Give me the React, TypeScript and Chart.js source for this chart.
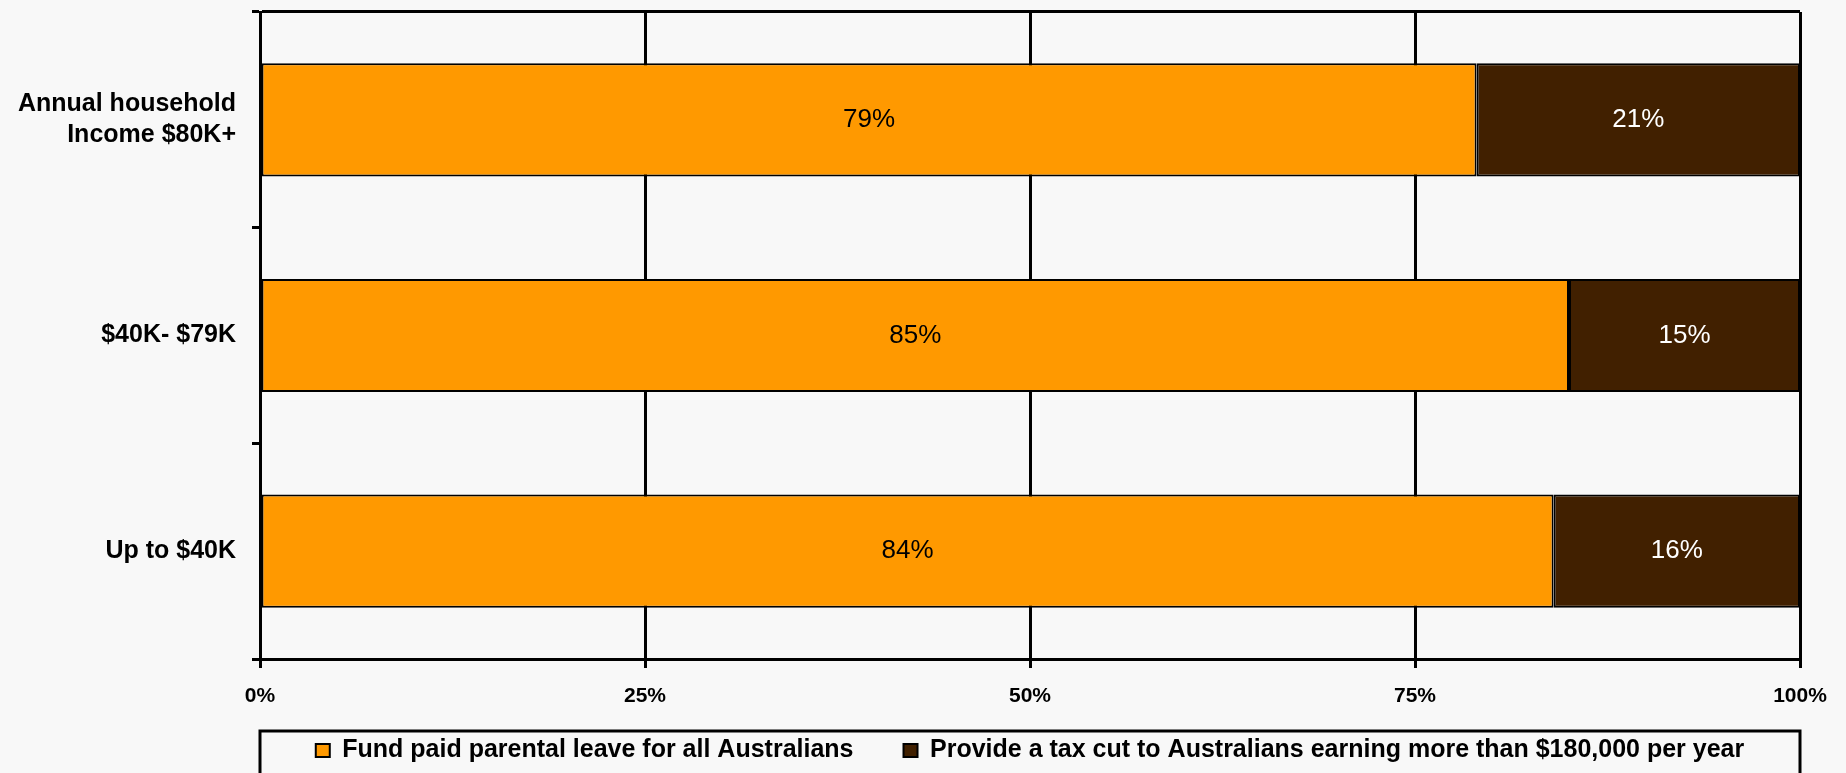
import React, { useEffect, useRef } from "react";
import { Chart, registerables } from "chart.js";

Chart.register(...registerables);

// ---- data ----
const categories: (string | string[])[] = [
  ["Annual household", "Income $80K+"],
  "$40K- $79K",
  "Up to $40K",
];
const seriesNames = [
  "Fund paid parental leave for all Australians",
  "Provide a tax cut to Australians earning more than $180,000 per year",
];
const fundValues = [79, 85, 84];
const taxCutValues = [21, 15, 16];
const xTickValues = [0, 25, 50, 75, 100];

// ---- styles ----
const ORANGE = "#FF9900";
const BROWN = "#412000";
const BG = "#f8f8f8";
const FONT = "'Liberation Sans', Arial, sans-serif";
const LABEL_COLORS = ["#000000", "#ffffff"];

const valueLabels = {
  id: "valueLabels",
  afterDatasetsDraw(chart: any) {
    const ctx = chart.ctx;
    ctx.save();
    ctx.font = `26px ${FONT}`;
    ctx.textAlign = "center";
    ctx.textBaseline = "middle";
    chart.data.datasets.forEach((ds: any, i: number) => {
      const meta = chart.getDatasetMeta(i);
      ctx.fillStyle = LABEL_COLORS[i];
      meta.data.forEach((el: any, j: number) => {
        const p = el.getCenterPoint();
        ctx.fillText(`${ds.data[j]}%`, p.x, p.y);
      });
    });
    ctx.restore();
  },
};

// let the x-axis tick labels draw below its (short) layout box
const xLabelRoom = {
  id: "xLabelRoom",
  afterLayout(chart: any) {
    const x = chart.scales.x;
    x.bottom = x.top + 60;
    x.height = 60;
  },
};

const legendFrame = {
  id: "legendFrame",
  afterDraw(chart: any) {
    const { ctx, chartArea } = chart;
    const top = chartArea.bottom + 72;
    ctx.save();
    ctx.strokeStyle = "#000";
    ctx.lineWidth = 3;
    ctx.strokeRect(chartArea.left, top, chartArea.right - chartArea.left, 200);
    ctx.restore();
  },
};

export default function App() {
  const ref = useRef<HTMLCanvasElement | null>(null);

  useEffect(() => {
    if (!ref.current) return;
    const barBorder = { top: 2, bottom: 2, left: 2, right: 2 };
    const chart = new Chart(ref.current, {
      type: "bar",
      data: {
        labels: categories as any,
        datasets: [
          {
            label: seriesNames[0],
            data: fundValues,
            backgroundColor: ORANGE,
            borderColor: "#000",
            borderWidth: barBorder as any,
            borderSkipped: false,
          },
          {
            label: seriesNames[1],
            data: taxCutValues,
            backgroundColor: BROWN,
            borderColor: "#000",
            borderWidth: barBorder as any,
            borderSkipped: false,
          },
        ],
      },
      options: {
        indexAxis: "y",
        responsive: false,
        animation: false,
        layout: { padding: { top: 12, right: 46, left: 0, bottom: 0 } },
        datasets: { bar: { categoryPercentage: 1, barPercentage: 0.525 } },
        scales: {
          x: {
            stacked: true,
            min: 0,
            max: 100,
            afterBuildTicks: (s: any) => {
              s.ticks = xTickValues.map((v) => ({ value: v }));
            },
            ticks: {
              callback: (v: any) => `${v}%`,
              font: { family: FONT, size: 21, weight: "bold" },
              color: "#000",
              padding: 16,
              maxRotation: 0,
              autoSkip: false,
            },
            grid: { color: "#000", lineWidth: 3, tickLength: 9, tickColor: "#000" },
            border: { color: "#000", width: 3 },
            afterFit: (s: any) => {
              s.height = 29;
            },
          },
          y: {
            stacked: true,
            ticks: {
              font: { family: FONT, size: 25, weight: "bold", lineHeight: 1.25 },
              color: "#000",
              padding: 16,
            },
            grid: {
              offset: true,
              color: (c: any) => (c.index === 0 ? "#000" : "rgba(0,0,0,0)"),
              tickColor: "#000",
              lineWidth: 3,
              tickLength: 8,
            },
            border: { color: "#000", width: 3 },
            afterFit: (s: any) => {
              s.width = 260;
              s.paddingTop = 0;
              s.paddingBottom = 0;
            },
          },
        },
        plugins: {
          legend: {
            position: "bottom",
            fullSize: false,
            labels: {
              font: { family: FONT, size: 25, weight: "bold" },
              color: "#000",
              boxWidth: 14,
              boxHeight: 13,
              padding: 50,
            },
          },
          tooltip: { enabled: false },
        },
      },
      plugins: [xLabelRoom, valueLabels, legendFrame],
    });
    return () => chart.destroy();
  }, []);

  return (
    <div
      style={{
        position: "fixed",
        left: 0,
        top: 0,
        width: 1846,
        height: 773,
        background: BG,
      }}
    >
      <canvas ref={ref} width={1846} height={773} style={{ display: "block" }} />
    </div>
  );
}
